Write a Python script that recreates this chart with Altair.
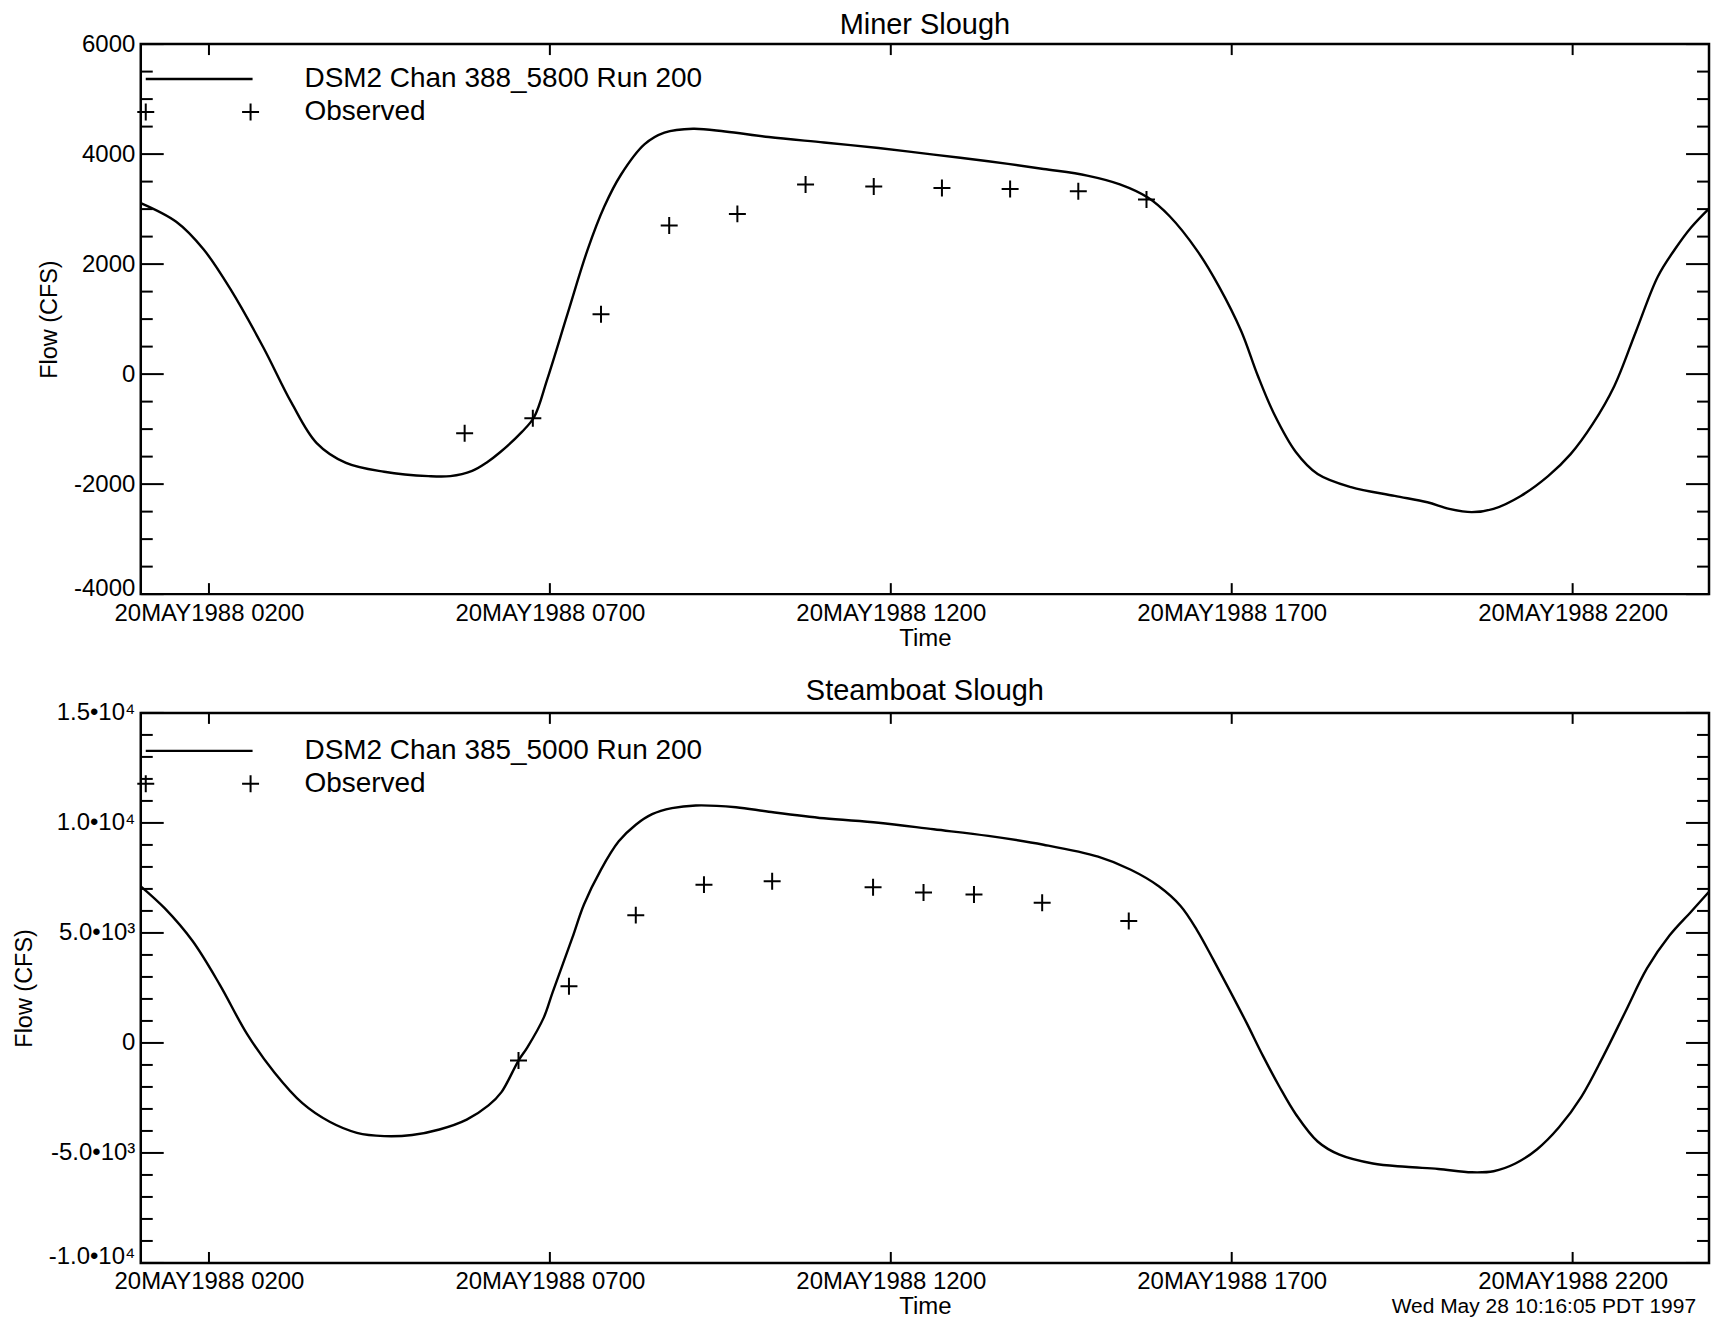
import altair as alt
import pandas as pd

FONT = "Liberation Sans"

# ---------------- data ----------------
x_domain = [1, 24]
x_tick_hours = [2, 7, 12, 17, 22]
x_label_prefix = "20MAY1988 "

miner_title = "Miner Slough"
miner_model_label = "DSM2 Chan 388_5800 Run 200"
miner_hours = [1.00, 1.52, 1.92, 2.32, 2.80, 3.21, 3.58, 4.01, 4.57, 5.22, 5.54, 5.86,
               6.07, 6.27, 6.59, 6.77, 6.96, 7.26, 7.55, 7.80, 8.04, 8.39, 8.68, 9.10,
               9.57, 10.21, 11.02, 11.82, 12.63, 13.43, 14.24, 14.88, 15.36, 15.77,
               16.09, 16.49, 16.81, 17.14, 17.38, 17.62, 17.94, 18.26, 18.75, 19.39,
               19.87, 20.19, 20.52, 20.84, 21.24, 21.64, 21.97, 22.29, 22.61, 22.93,
               23.25, 23.50, 23.74, 24.00]
miner_flow = [3110, 2770, 2270, 1535, 480, -520, -1255, -1615, -1775, -1855, -1855, -1760,
              -1610, -1420, -1050, -780, -100, 1100, 2250, 3050, 3620, 4180, 4390, 4460,
              4410, 4310, 4210, 4110, 3990, 3870, 3730, 3610, 3450, 3210,
              2870, 2250, 1600, 780, -20, -720, -1415, -1815, -2055, -2215,
              -2330, -2450, -2510, -2450, -2215, -1855, -1455, -915, -220, 780,
              1775, 2270, 2670, 3010]
miner_obs_hours = [5.75, 6.75, 7.75, 8.75, 9.75, 10.75, 11.75, 12.75, 13.75, 14.75, 15.75]
miner_obs_flow = [-1077, -804, 1088, 2702, 2913, 3446, 3410, 3385, 3367, 3325, 3174]
miner_y_domain = [-4000, 6000]
miner_y_major = [-4000, -2000, 0, 2000, 4000, 6000]
miner_y_minor = [-3500, -3000, -2500, -1500, -1000, -500, 500, 1000, 1500,
                 2500, 3000, 3500, 4500, 5000, 5500]
miner_y_labels = ["-4000", "-2000", "0", "2000", "4000", "6000"]

steam_title = "Steamboat Slough"
steam_model_label = "DSM2 Chan 385_5000 Run 200"
steam_hours = [1.00, 1.35, 1.76, 2.16, 2.56, 2.96, 3.37, 3.77, 4.17, 4.57, 4.98, 5.38,
               5.78, 6.10, 6.29, 6.54, 6.67, 6.91, 7.04, 7.33, 7.50, 7.75, 8.01, 8.26,
               8.50, 8.79, 9.14, 9.73, 10.21, 11.02, 11.82, 12.63, 13.43, 14.24, 15.04,
               15.52, 15.93, 16.25, 16.49, 16.73, 16.97, 17.22, 17.46, 17.70, 17.94,
               18.26, 18.58, 19.07, 19.55, 20.03, 20.52, 20.84, 21.16, 21.48, 21.80,
               22.13, 22.45, 22.77, 23.09, 23.42, 23.74, 24.00]
steam_flow = [7120, 6125, 4630, 2640, 400, -1345, -2740, -3585, -4085, -4235, -4185, -3935,
              -3485, -2840, -2236, -800, -200, 1150, 2300, 4783, 6295, 7880, 9162, 9918,
              10398, 10670, 10792, 10710, 10510, 10210, 10010, 9710, 9410, 9010, 8465,
              7870, 7120, 6225, 5130, 3785, 2390, 900, -600, -1990, -3240,
              -4480, -5080, -5480, -5630, -5730, -5880, -5830, -5480, -4830, -3835,
              -2440, -600, 1395, 3385, 4880, 5975, 6870]
steam_obs_hours = [6.54, 7.28, 8.26, 9.26, 10.26, 11.74, 12.48, 13.22, 14.22, 15.49]
steam_obs_flow = [-802, 2574, 5809, 7195, 7349, 7078, 6833, 6743, 6367, 5538]
steam_y_domain = [-10000, 15000]
steam_y_major = [-10000, -5000, 0, 5000, 10000, 15000]
steam_y_minor = [-9000, -8000, -7000, -6000, -4000, -3000, -2000, -1000,
                 1000, 2000, 3000, 4000, 6000, 7000, 8000, 9000,
                 11000, 12000, 13000, 14000]
steam_y_labels = ["-1.0•10⁴", "-5.0•10³", "0", "5.0•10³", "1.0•10⁴", "1.5•10⁴"]

observed_label = "Observed"
stamp_text = "Wed May 28 10:16:05 PDT 1997"

# ---------------- styling ----------------
W, H = 1571, 551
PLUS = "M-1,0L1,0M0,-1L0,1"
LABEL_SIZE = 24


def label_expr(values, labels):
    expr = "''"
    for v, l in zip(reversed(values), reversed(labels)):
        expr = f"datum.value == {v} ? '{l}' : ({expr})"
    return expr


x_label_expr = ("'" + x_label_prefix + "' + (datum.value < 10 ? '0' : '') + datum.value + '00'")


def panel(title, model_label, hours, flow, obs_h, obs_f, ydom, ymaj, ymin, ylabels,
          leg_y1, leg_y2, title_y, stamp=False):
    xs = alt.Scale(domain=x_domain, nice=False, zero=False)
    ys = alt.Scale(domain=ydom, nice=False, zero=False)
    xaxis = alt.Axis(values=x_tick_hours, labelExpr=x_label_expr, ticks=False, domain=False,
                     grid=False, title="Time", labelFont=FONT, titleFont=FONT,
                     labelFontSize=LABEL_SIZE, titleFontSize=24, labelColor="black",
                     titleColor="black", titleFontWeight="normal", labelPadding=7,
                     titlePadding=1, labelFlush=False, labelLimit=0, labelOverlap=False)
    yaxis = alt.Axis(values=ymaj, labelExpr=label_expr(ymaj, ylabels), ticks=False,
                     domain=False, grid=False, title="Flow (CFS)", labelFont=FONT,
                     titleFont=FONT, labelFontSize=LABEL_SIZE, titleFontSize=23.5,
                     labelColor="black", titleColor="black", titleFontWeight="normal",
                     labelPadding=6, titlePadding=12, labelFlush=False, labelLimit=0,
                     labelOverlap=False,
                     labelOffset={"condition": {"test": f"datum.value == {ydom[0]}",
                                                "value": -6}, "value": 0})
    X = lambda: alt.X("hour:Q", scale=xs, axis=xaxis, title="Time")
    Y = lambda: alt.Y("flow:Q", scale=ys, axis=yaxis, title="Flow (CFS)")

    curve_df = pd.DataFrame({"hour": hours, "flow": flow})
    obs_df = pd.DataFrame({"hour": obs_h, "flow": obs_f})

    line = alt.Chart(curve_df).mark_line(color="black", strokeWidth=2.4,
                                         interpolate="catmull-rom").encode(x=X(), y=Y())
    pts = alt.Chart(obs_df).mark_point(shape=PLUS, size=289, filled=False, color="black",
                                       strokeWidth=2, opacity=1).encode(x=X(), y=Y())

    layers = [line, pts]
    for vals, length in ((ymaj, 23), (ymin, 12)):
        tdf = pd.DataFrame({"flow": vals})
        layers.append(alt.Chart(tdf).mark_rule(color="black", strokeWidth=2).encode(
            y=Y(), x=alt.value(0), x2=alt.value(length)))
        layers.append(alt.Chart(tdf).mark_rule(color="black", strokeWidth=2).encode(
            y=Y(), x=alt.value(W), x2=alt.value(W - length)))
    xdf = pd.DataFrame({"hour": x_tick_hours})
    layers.append(alt.Chart(xdf).mark_rule(color="black", strokeWidth=2).encode(
        x=X(), y=alt.value(H), y2=alt.value(H - 11)))
    layers.append(alt.Chart(xdf).mark_rule(color="black", strokeWidth=2).encode(
        x=X(), y=alt.value(0), y2=alt.value(11)))

    # panel title
    tdf = pd.DataFrame({"label": [title]})
    layers.append(alt.Chart(tdf).mark_text(font=FONT, fontSize=29, align="center",
                                           baseline="middle", color="black").encode(
        text="label:N", x=alt.value(W / 2), y=alt.value(title_y)))

    # legend (IDL style)
    ldf = pd.DataFrame({"label": [model_label]})
    odf = pd.DataFrame({"label": [observed_label]})
    layers.append(alt.Chart(ldf).mark_rule(color="black", strokeWidth=2.4).encode(
        x=alt.value(5), x2=alt.value(112), y=alt.value(leg_y1)))
    for px in (5, 110):
        layers.append(alt.Chart(odf).mark_point(shape=PLUS, size=289, filled=False,
                                                color="black", strokeWidth=2,
                                                opacity=1).encode(
            x=alt.value(px), y=alt.value(leg_y2)))
    layers.append(alt.Chart(ldf).mark_text(font=FONT, fontSize=28, align="left",
                                           baseline="middle", color="black").encode(
        text="label:N", x=alt.value(164), y=alt.value(leg_y1)))
    layers.append(alt.Chart(odf).mark_text(font=FONT, fontSize=28, align="left",
                                           baseline="middle", color="black").encode(
        text="label:N", x=alt.value(164), y=alt.value(leg_y2)))
    if stamp:
        sdf = pd.DataFrame({"label": [stamp_text]})
        layers.append(alt.Chart(sdf).mark_text(font=FONT, fontSize=21, align="right",
                                               baseline="middle", color="black").encode(
            text="label:N", x=alt.value(W - 13), y=alt.value(H + 44)))

    return alt.layer(*layers).properties(width=W, height=H)


top = panel(miner_title, miner_model_label, miner_hours, miner_flow, miner_obs_hours,
            miner_obs_flow, miner_y_domain, miner_y_major, miner_y_minor, miner_y_labels,
            35, 68, -19)
bottom = panel(steam_title, steam_model_label, steam_hours, steam_flow, steam_obs_hours,
               steam_obs_flow, steam_y_domain, steam_y_major, steam_y_minor, steam_y_labels,
               38, 71, -22, stamp=True)

chart = alt.vconcat(top, bottom, spacing=23).properties(
    padding={"left": 2, "top": 0, "right": 0, "bottom": -1}
).configure_view(stroke="black", strokeWidth=2.5)

chart.save("out.html", embed_options={"renderer": "svg", "actions": False})
